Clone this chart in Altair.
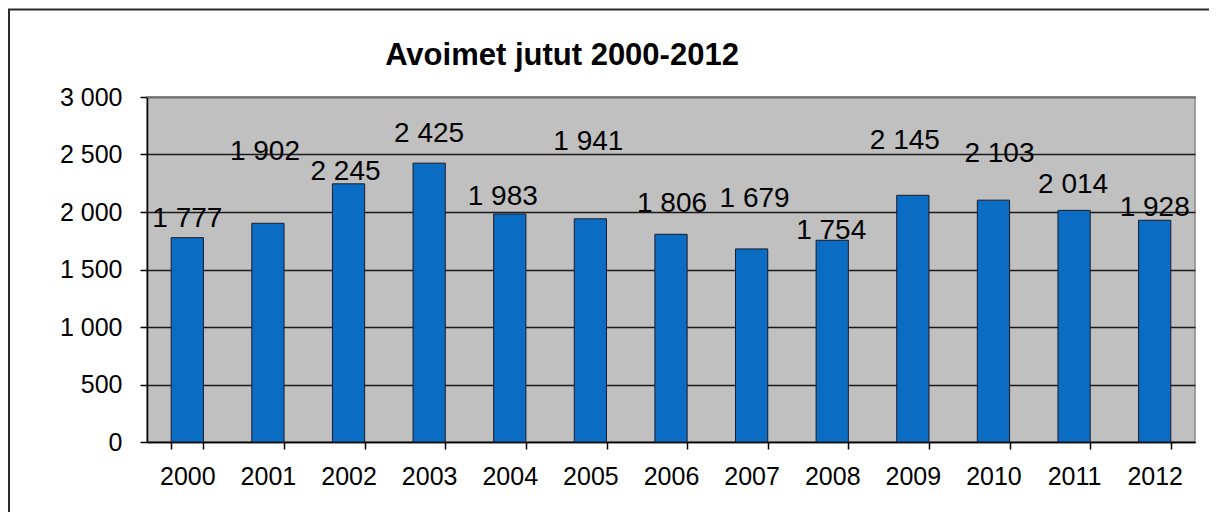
import altair as alt
import pandas as pd

years = ["2000", "2001", "2002", "2003", "2004", "2005", "2006",
         "2007", "2008", "2009", "2010", "2011", "2012"]
values = [1777, 1902, 2245, 2425, 1983, 1941, 1806, 1679, 1754, 2145, 2103, 2014, 1928]
# data-label anchor heights (value units), labels were hand-placed in the original
label_y = [1870, 2452, 2278, 2609, 2061, 2539, 2000, 2043, 1765, 2548, 2435, 2165, 1965]
# small horizontal nudges (px) of the hand-placed labels
label_dx = [0, -3, -3, 0, -7, -2, 1, 3, -1, -8, 6, -1, 0]
y_ticks = [0, 500, 1000, 1500, 2000, 2500, 3000]
title_text = ["Avoimet jutut 2000-2012"]

FONT = "Liberation Sans"
W, H = 1048, 345
N = len(years)

df = pd.DataFrame({"year": years, "value": values, "label_y": label_y,
                   "label_dx": label_dx, "idx": list(range(N))})

x_enc = alt.X(
    "year:N", sort=years,
    scale=alt.Scale(paddingInner=0.6, paddingOuter=0.3),
    axis=alt.Axis(title=None, labelAngle=0, labelFontSize=25, labelFont=FONT,
                  labelColor="black", tickBand="extent", tickSize=7, tickColor="black",
                  tickWidth=1.5, domainColor="black", domainWidth=1.5,
                  labelPadding=15, grid=False),
)
y_enc = alt.Y(
    "value:Q", scale=alt.Scale(domain=[0, 3000], nice=False),
    axis=alt.Axis(title=None, values=y_ticks, grid=True, gridColor="#1a1a1a",
                  gridWidth=1.5, labelFontSize=25, labelFont=FONT, labelColor="black",
                  tickSize=7, tickColor="black", tickWidth=1.5, domainColor="black",
                  domainWidth=1.5, labelPadding=18,
                  labelExpr="replace(format(datum.value, ','), ',', ' ')"),
)

bars = alt.Chart(df).mark_bar(color="#0B6CC4", stroke="#1b1b2a", strokeWidth=1).encode(
    x=x_enc, y=y_enc
)

top_edge = alt.Chart(pd.DataFrame({"v": [3000]})).mark_rule(
    color="#8a8a8a", strokeWidth=1.5
).encode(y=alt.Y("v:Q"))

labels = alt.Chart(df).transform_calculate(
    txt="replace(format(datum.value, ','), ',', ' ')",
    xpos=f"datum.idx + datum.label_dx * {N} / {W}",
).mark_text(fontSize=28, font=FONT, baseline="alphabetic", align="center",
            color="black").encode(
    x=alt.X("xpos:Q", scale=alt.Scale(domain=[-0.5, N - 0.5], nice=False, zero=False),
            axis=None),
    y=alt.Y("label_y:Q"),
    text="txt:N",
)

title = alt.Chart(pd.DataFrame({"t": title_text})).mark_text(
    fontSize=31, font=FONT, fontWeight="bold", color="black",
    align="center", baseline="alphabetic"
).encode(x=alt.value(415), y=alt.value(-32), text="t:N")

frame_top = alt.Chart(pd.DataFrame({"a": [0]})).mark_rule(
    color="#2a2a2a", strokeWidth=2
).encode(x=alt.value(-139), x2=alt.value(1062), y=alt.value(-87.5))

frame_left = alt.Chart(pd.DataFrame({"a": [0]})).mark_rule(
    color="#2a2a2a", strokeWidth=2
).encode(x=alt.value(-138), y=alt.value(-88), y2=alt.value(H + 80))

chart = alt.layer(bars, top_edge, labels, title, frame_top, frame_left).resolve_scale(
    x="independent"
).properties(
    width=W, height=H,
    autosize=alt.AutoSizeParams(type="none"),
    padding={"left": 139, "top": 89, "right": 14, "bottom": 70},
    background="white",
).configure_view(fill="#C0C0C0", stroke="#8a8a8a", strokeWidth=1.5)

chart.save("out.html", embed_options={"renderer": "svg", "actions": False})
